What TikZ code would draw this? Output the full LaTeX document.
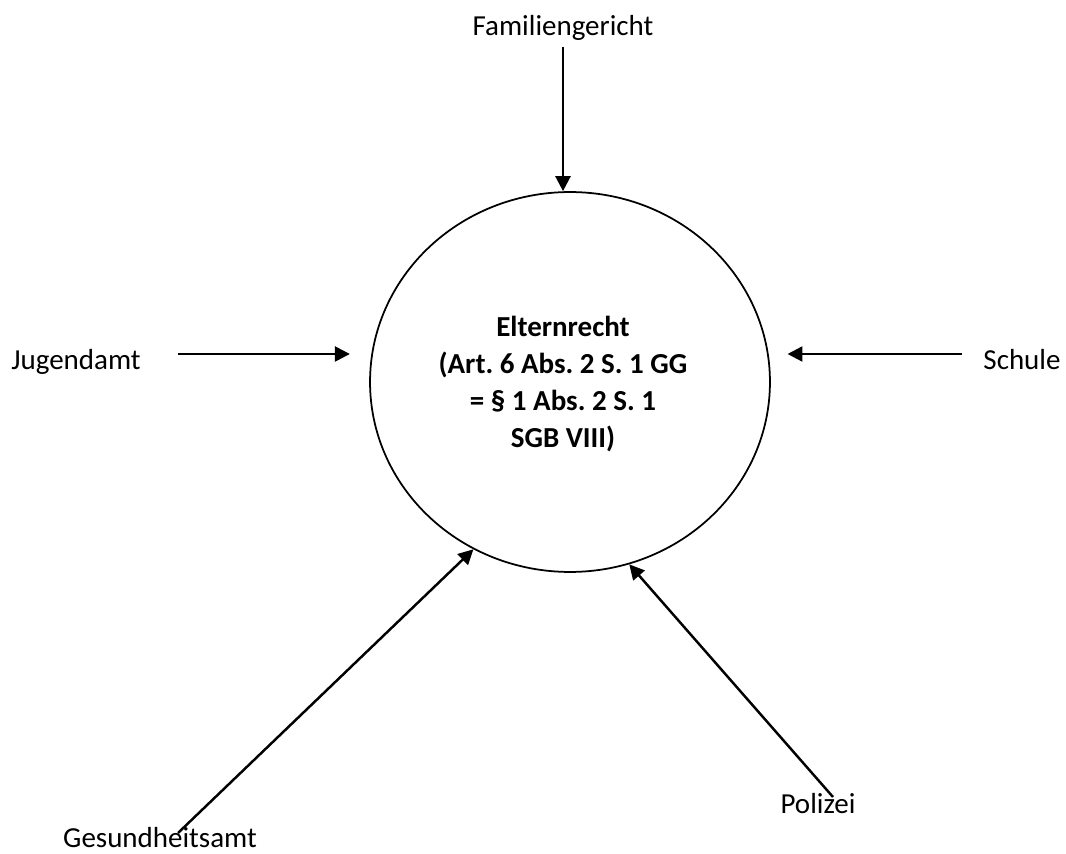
\documentclass[tikz,border=0pt]{standalone}
\usepackage{fontspec}
\setmainfont{Carlito}
\frenchspacing
\usetikzlibrary{positioning, shapes.geometric, arrows.meta}

\begin{document}
\begin{tikzpicture}[
    x=0.02cm, y=-0.02cm,
    rights/.style={draw, ellipse, line width=1pt, minimum width=8cm, minimum height=7.6cm, inner sep=0pt},
    lbl/.style={anchor=base, inner sep=0pt, font=\fontsize{16.5}{21}\selectfont},
    arrow/.style={-{Triangle[length=8.5pt, width=8.5pt]}, line width=1.4pt, draw=black}
]
    \useasboundingbox (0,0) rectangle (1066,854);

    % ================= CENTRE =================
    \node[rights] (Elternrecht) at (570, 382) {};
    \node[align=center, inner sep=0pt, font=\fontsize{16.5}{21}\selectfont\bfseries] (ElternText) at (563, 384)
        {Elternrecht\\(Art. 6 Abs. 2 S. 1 GG\\= § 1 Abs. 2 S. 1\\SGB VIII)};

    % ================= ACTORS =================
    \node[lbl] (Familiengericht) at (563, 36) {Familiengericht};
    \node[lbl] (Jugendamt) at (76, 370) {Jugendamt};
    \node[lbl] (Schule) at (1022, 370) {Schule};
    \node[lbl] (Gesundheitsamt) at (160, 848) {Gesundheitsamt};
    \node[lbl] (Polizei) at (818, 814) {Polizei};

    % start points of the arrows
    \coordinate (FamStart) at (563, 47);
    \coordinate (JugStart) at (178, 354);
    \coordinate (SchStart) at (962, 354);
    \coordinate (GesStart) at (178, 833);
    \coordinate (PolStart) at (833, 797);

    % ================= ARROWS =================
    \draw[arrow] (FamStart) -- (FamStart |- Elternrecht.north);
    \draw[arrow, shorten >=11pt] (JugStart) -- (JugStart -| Elternrecht.west);
    \draw[arrow, shorten >=9.5pt] (SchStart) -- (SchStart -| Elternrecht.east);
    \draw[arrow] (GesStart) -- (Elternrecht.240.7);
    \draw[arrow] (PolStart) -- (Elternrecht.288.9);

\end{tikzpicture}
\end{document}
